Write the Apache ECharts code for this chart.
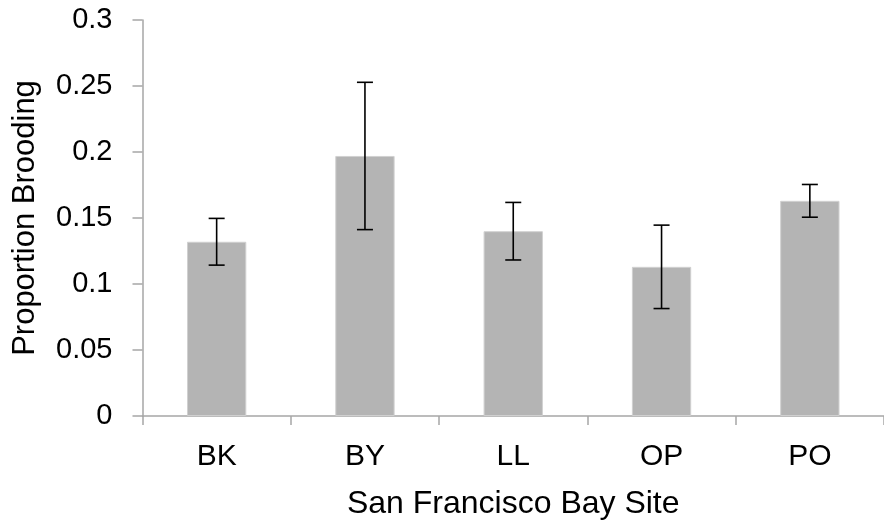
<!DOCTYPE html>
<html>
<head>
<meta charset="utf-8">
<script src="https://cdn.jsdelivr.net/npm/echarts@6/dist/echarts.min.js"></script>
<style>
  html, body { margin: 0; padding: 0; background: #fff; }
  #chart { width: 884px; height: 525px; }
</style>
</head>
<body>
<div id="chart"></div>
<script>
// Sites sampled around San Francisco Bay
const sites = ['BK', 'BY', 'LL', 'OP', 'PO'];
// Mean proportion of brooding individuals per site
const proportionBrooding = [0.132, 0.197, 0.140, 0.113, 0.163];
// Standard error for each site
const standardError = [0.0177, 0.0558, 0.0218, 0.0316, 0.0124];
// Y axis range and step
const yMin = 0, yMax = 0.3, yStep = 0.05;

const FONT = '"Liberation Sans", Arial, sans-serif';
const AXIS_GRAY = '#a6a6a6';

const errorData = sites.map((s, i) => [i, proportionBrooding[i] - standardError[i], proportionBrooding[i] + standardError[i]]);

const chart = echarts.init(document.getElementById('chart'), null, { renderer: 'canvas' });

chart.setOption({
  animation: false,
  backgroundColor: '#ffffff',
  grid: { left: 142.5, top: 20, width: 750, height: 397, containLabel: false },
  xAxis: {
    type: 'category',
    data: sites,
    name: 'San Francisco Bay Site',
    nameLocation: 'middle',
    nameGap: 72,
    nameTextStyle: { fontFamily: FONT, fontSize: 32, color: '#000' },
    axisLine: { lineStyle: { color: AXIS_GRAY, width: 1.5 } },
    axisTick: { show: true, length: 9, alignWithLabel: false, lineStyle: { color: AXIS_GRAY, width: 1.5 } },
    axisLabel: { fontFamily: FONT, fontSize: 30, color: '#000', margin: 26 },
    splitLine: { show: false }
  },
  yAxis: {
    type: 'value',
    min: yMin,
    max: yMax,
    interval: yStep,
    name: 'Proportion Brooding',
    nameLocation: 'middle',
    nameGap: 102,
    nameTextStyle: { fontFamily: FONT, fontSize: 31, color: '#000' },
    axisLine: { show: true, lineStyle: { color: AXIS_GRAY, width: 1.5 } },
    axisTick: { show: true, length: 10, lineStyle: { color: AXIS_GRAY, width: 1.5 } },
    axisLabel: {
      fontFamily: FONT, fontSize: 29, color: '#000', margin: 30,
      formatter: v => String(Math.round(v * 100) / 100)
    },
    splitLine: { show: false }
  },
  series: [
    {
      type: 'bar',
      data: proportionBrooding,
      barWidth: '40%',
      itemStyle: { color: '#b4b4b4', borderColor: '#d0d0d0', borderWidth: 1 },
      z: 2
    },
    {
      type: 'custom',
      data: errorData,
      z: 5,
      renderItem: function (params, api) {
        const x = api.value(0);
        const lo = api.coord([x, api.value(1)]);
        const hi = api.coord([x, api.value(2)]);
        const cap = 8;
        const style = { stroke: '#000', lineWidth: 1.6 };
        return {
          type: 'group',
          children: [
            { type: 'line', shape: { x1: hi[0], y1: hi[1], x2: lo[0], y2: lo[1] }, style },
            { type: 'line', shape: { x1: hi[0] - cap, y1: hi[1], x2: hi[0] + cap, y2: hi[1] }, style },
            { type: 'line', shape: { x1: lo[0] - cap, y1: lo[1], x2: lo[0] + cap, y2: lo[1] }, style }
          ]
        };
      }
    }
  ]
});
</script>
</body>
</html>
